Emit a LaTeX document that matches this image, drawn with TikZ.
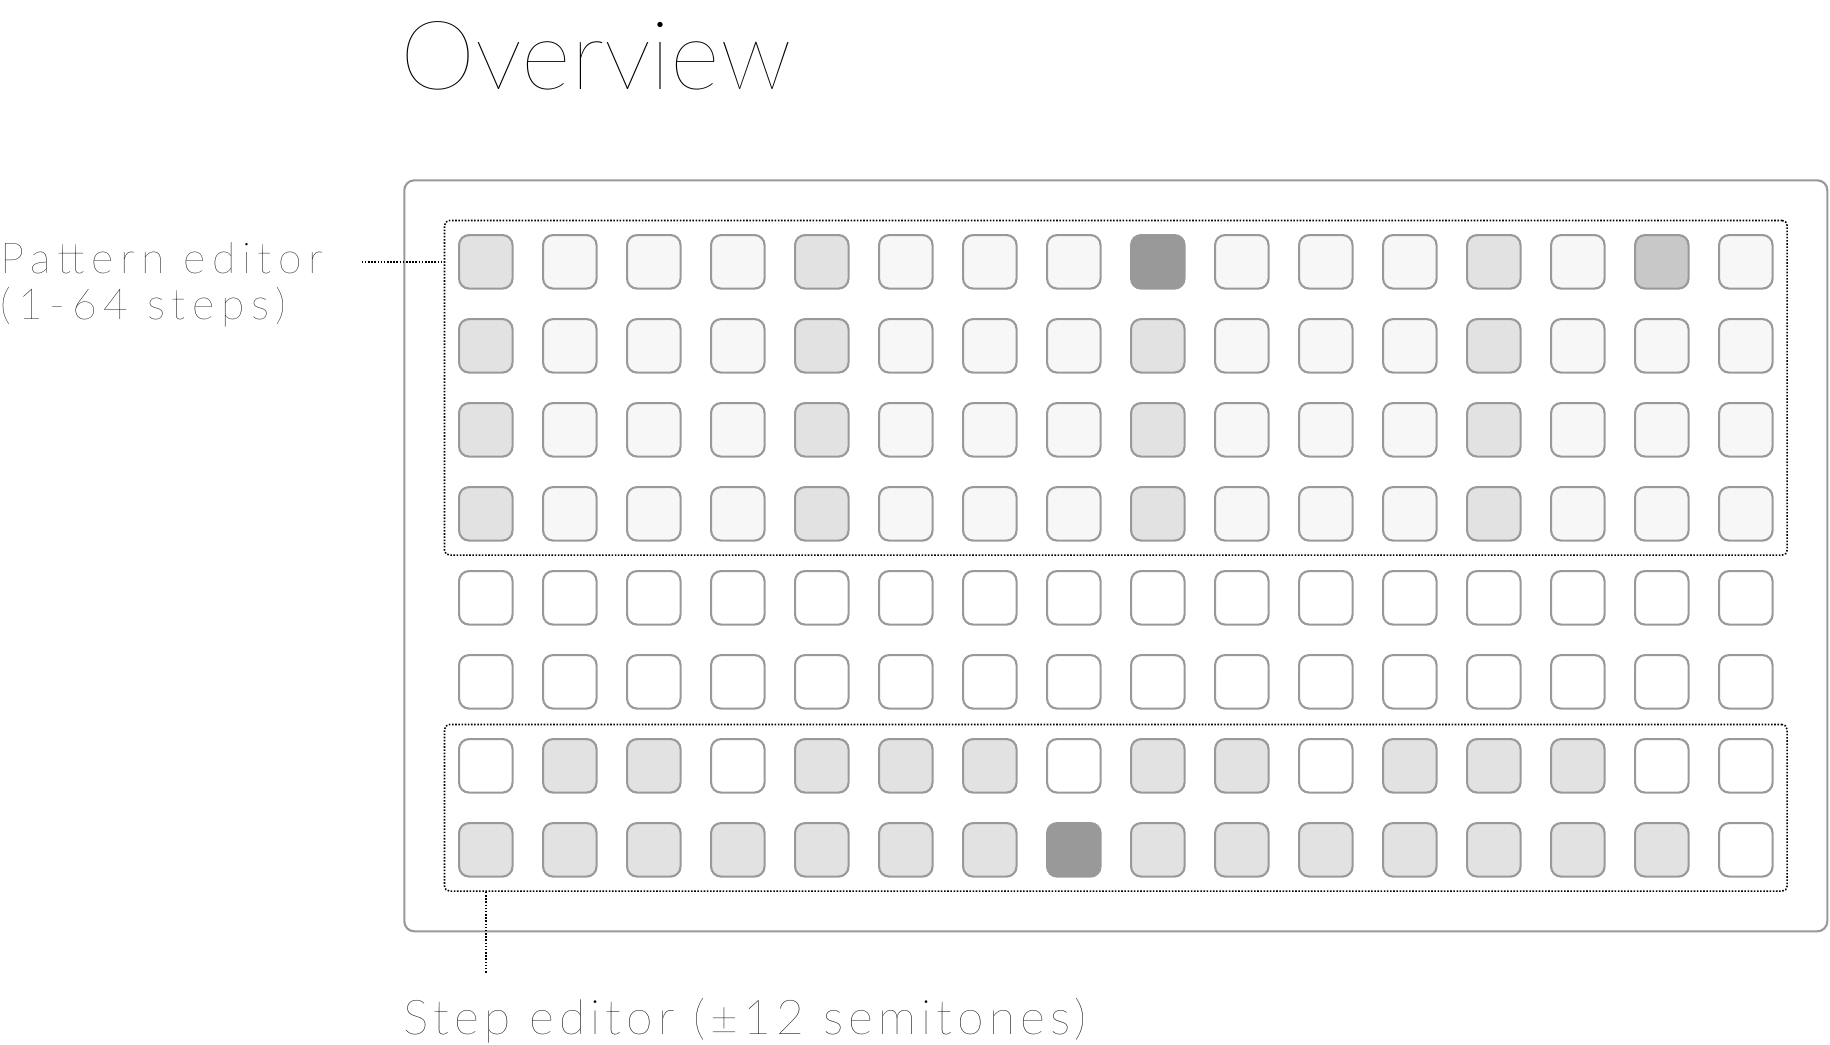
\documentclass[tikz,border=0pt]{standalone}
\usepackage{xcolor}
\usepackage{fontspec}
\usepackage{tikz}
\usetikzlibrary{positioning, fit}
\newfontfamily\titlefont{Lato Hairline}
\newfontfamily\labelfont{Lato Thin}[LetterSpace=15.5]
\newfontfamily\steplabelfont{Lato Thin}[LetterSpace=10.6]
\definecolor{PadEdge}{HTML}{999999}
\definecolor{PadFaint}{HTML}{F7F7F7}
\definecolor{PadLight}{HTML}{E2E2E2}
\definecolor{PadMid}{HTML}{C8C8C8}
\definecolor{PadDark}{HTML}{999999}
\def\pitch{0.84}
\def\padsize{0.535}
\tikzset{
  pad/.style={draw=PadEdge, line width=0.6pt, rounded corners=1mm,
    minimum size=\padsize cm, inner sep=0pt},
  pad-W/.style={pad, fill=white},
  pad-V/.style={pad, fill=PadFaint},
  pad-L/.style={pad, fill=PadLight},
  pad-M/.style={pad, fill=PadMid},
  pad-D/.style={pad, fill=PadDark},
  panel/.style={draw=PadEdge, line width=0.6pt, rounded corners=1mm},
  group/.style={draw=black, line width=0.45pt, dash pattern=on 0.45pt off 0.45pt,
    rounded corners=0.5mm, inner sep=0.135cm},
  leader/.style={draw=black, line width=0.45pt, dash pattern=on 0.45pt off 0.45pt},
  lbl/.style={inner sep=0pt, font=\labelfont\fontsize{12.2}{13.1}\selectfont, align=left},
}
\begin{document}
\begin{tikzpicture}
  \useasboundingbox (0,0) rectangle (18.3,-10.44);
  \node[anchor=base west, inner sep=0pt, font=\titlefont\fontsize{27.3}{30}\selectfont]
    (title) at (4.0,-0.895) {Overview};
  \draw[panel] (4.043,-1.803) rectangle (18.273,-9.313);
  % grid of pads, row by row
  \foreach \r/\pads in {
      1/{L,V,V,V,L,V,V,V,D,V,V,V,L,V,M,V},
      2/{L,V,V,V,L,V,V,V,L,V,V,V,L,V,V,V},
      3/{L,V,V,V,L,V,V,V,L,V,V,V,L,V,V,V},
      4/{L,V,V,V,L,V,V,V,L,V,V,V,L,V,V,V},
      5/{W,W,W,W,W,W,W,W,W,W,W,W,W,W,W,W},
      6/{W,W,W,W,W,W,W,W,W,W,W,W,W,W,W,W},
      7/{W,L,L,W,L,L,L,W,L,L,W,L,L,L,W,W},
      8/{L,L,L,L,L,L,L,D,L,L,L,L,L,L,L,W}}
    {\foreach \p [count=\c] in \pads
      {\node[pad-\p] (c-\r-\c) at ({4.858+\pitch*(\c-1)},{-2.618-\pitch*(\r-1)}) {};}}
  \node[group, fit=(c-1-1)(c-4-16)] (patbox) {};
  \node[group, fit=(c-7-1)(c-8-16)] (stepbox) {};
  % labels and leaders
  \node[lbl, anchor=base west] (patlabel) at (0.0,-3.193) {Pattern editor\\(1-64 steps)};
  \coordinate (patlead) at (3.617,-2.618);
  \draw[leader] (patlead) -- (patlead -| patbox.west);
  \node[lbl, anchor=base west, font=\steplabelfont\fontsize{13.7}{15}\selectfont]
    (steplabel) at (4.03,-10.34) {Step editor (±12 semitones)};
  \coordinate (steplead) at (4.858,-9.73);
  \draw[leader] (c-8-1 |- stepbox.south) -- (steplead);
\end{tikzpicture}
\end{document}
